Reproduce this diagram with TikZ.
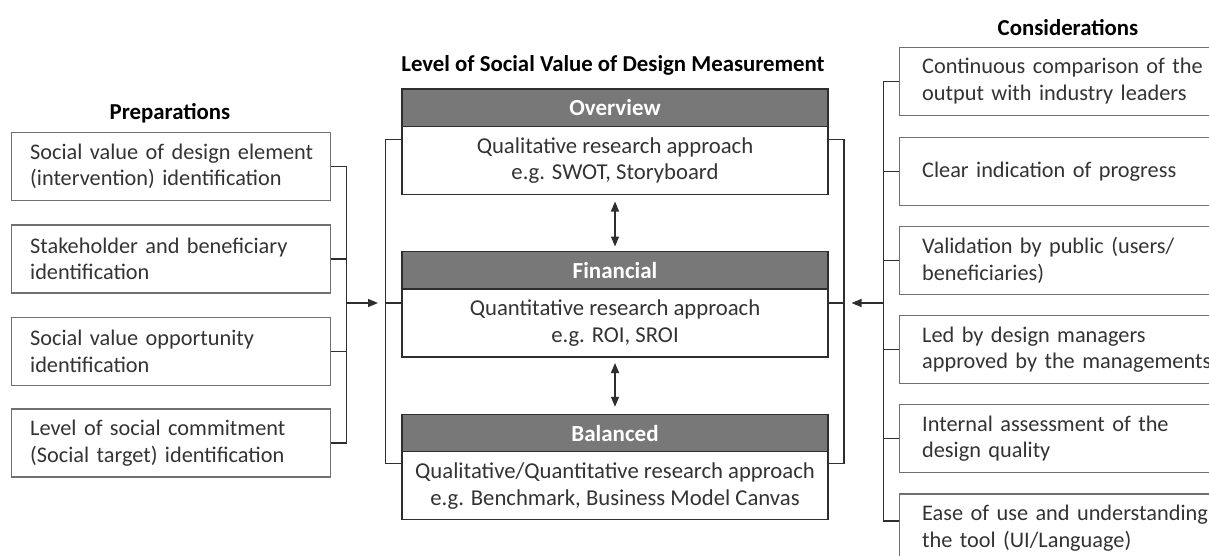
\documentclass[tikz,border=0pt]{standalone}
\usepackage{fontspec}
\setmainfont{Carlito}
\usetikzlibrary{arrows.meta, positioning, calc}
\definecolor{headgray}{HTML}{787878}
\definecolor{framegray}{HTML}{707070}
\definecolor{linegray}{HTML}{2E2E2E}
\definecolor{textgray}{HTML}{333333}

\tikzset{
  bodyfont/.style={font=\fontsize{22.3}{26.7}\selectfont},
  titletext/.style={font=\fontsize{22.8}{26}\selectfont\bfseries, text=black},
  prepbox/.style={draw=framegray, line width=1.3pt, bodyfont, text=textgray, anchor=north west,
    minimum height=68pt, text width=282pt, inner xsep=18.5pt, align=left},
  consbox/.style={prepbox, text width=340pt, inner xsep=22.5pt},
  headbox/.style={draw=linegray, fill=headgray, line width=1.3pt, outer sep=0pt, anchor=north,
    minimum width=426pt, minimum height=37.5pt, text=white, font=\fontsize{23}{26}\selectfont\bfseries},
  bodybox/.style={draw=linegray, line width=1.3pt, outer sep=0pt, font=\fontsize{22.7}{26.7}\selectfont,
    text=textgray, minimum width=426pt, minimum height=68pt, align=center},
  connector/.style={draw=linegray, line width=1.3pt},
  feed/.style={connector, -{Triangle[length=10pt, width=8pt]}, shorten >=7.5pt},
  twoway/.style={connector, {Triangle[length=10pt, width=8pt]}-{Triangle[length=10pt, width=8pt]}},
}

\begin{document}
\begin{tikzpicture}[x=1pt, y=-1pt]
  \useasboundingbox (0,0) rectangle (1209,556);
  \clip (0,0) rectangle (1209,556);

  % Titles
  \node[titletext] (preptitle) at (170,113) {Preparations};
  \node[titletext] (leveltitle) at (613,65) {Level of Social Value of Design Measurement};
  \node[titletext] (constitle) at (1068,28) {Considerations};

  % Preparations (left)
  \node[prepbox] (prep1) at (11,131.7) {\mbox{Social value of design element}\\(intervention) identification};
  \node[prepbox] (prep2) at (11,224.3) {Stakeholder and beneficiary\\identification};
  \node[prepbox] (prep3) at (11,316.7) {Social value opportunity\\identification};
  \node[prepbox] (prep4) at (11,408.3) {Level of social commitment\\(Social target) identification};

  % Measurement levels (middle)
  \node[headbox] (ovhead) at (615,89) {Overview};
  \node[bodybox, below=0pt of ovhead] (ovbody) {Qualitative research approach\\e.g. SWOT, Storyboard};
  \node[headbox] (finhead) at (615,251.5) {Financial};
  \node[bodybox, below=0pt of finhead] (finbody) {Quantitative research approach\\e.g. ROI, SROI};
  \node[headbox] (balhead) at (615,414.3) {Balanced};
  \node[bodybox, below=0pt of balhead] (balbody) {Qualitative/Quantitative research approach\\e.g. Benchmark, Business Model Canvas};

  % Considerations (right)
  \node[consbox] (cons1) at (899,46.7) {Continuous comparison of the\\output with industry leaders};
  \node[consbox] (cons2) at (899,136.7) {Clear indication of progress};
  \node[consbox] (cons3) at (899,225.7) {Validation by public (users/\\beneficiaries)};
  \node[consbox] (cons4) at (899,315) {Led by design managers\\approved by the managements};
  \node[consbox] (cons5) at (899,404) {Internal assessment of the\\design quality};
  \node[consbox] (cons6) at (899,493.3) {Ease of use and understanding\\the tool (UI/Language)};

  % Bus points
  \coordinate (prepbus) at (346.5,303);
  \coordinate (lbus) at (385.5,303);
  \coordinate (rbus) at (844,303);
  \coordinate (consbus) at (883.5,303);
  \coordinate (lov) at (385.5,139.3);
  \coordinate (lbal) at (385.5,463.3);
  \coordinate (rov) at (844,139.3);
  \coordinate (rbal) at (844,463.3);

  % Preparations feed the levels
  \draw[connector] (prep1.east) -| (prepbus);
  \draw[connector] (prep4.east) -| (prepbus);
  \draw[connector] (prep2.east) -- (prep2.east -| prepbus);
  \draw[connector] (prep3.east) -- (prep3.east -| prepbus);
  \draw[feed] (prepbus) -- (lbus);

  % Brackets round the levels
  \draw[connector] (ovbody.west |- lov) -- (lov) -- (lbal) -- (balbody.west |- lbal);
  \draw[connector] (finbody.west |- lbus) -- (lbus);
  \draw[connector] (ovbody.east |- rov) -- (rov) -- (rbal) -- (balbody.east |- rbal);
  \draw[connector] (finbody.east |- rbus) -- (rbus);

  % Levels linked to one another
  \draw[twoway] ([yshift=-7pt]ovbody.south) -- ([yshift=5pt]finhead.north);
  \draw[twoway] ([yshift=-6pt]finbody.south) -- ([yshift=7.5pt]balhead.north);

  % Considerations feed the levels
  \draw[connector] (cons1.west) -| (consbus);
  \draw[connector] ([yshift=7pt]cons6.west) -| (consbus);
  \foreach \i in {2,...,5}
    \draw[connector] (cons\i.west) -- (cons\i.west -| consbus);
  \draw[feed] (consbus) -- (rbus);
\end{tikzpicture}
\end{document}
